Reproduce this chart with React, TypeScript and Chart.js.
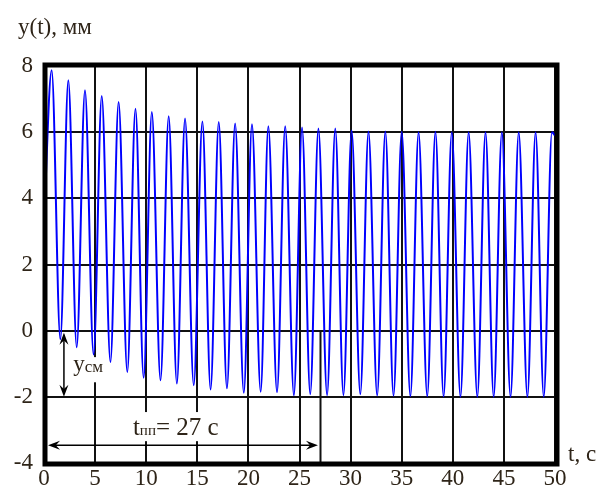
import React, { useEffect, useRef } from "react";
import { Chart, registerables } from "chart.js";

Chart.register(...registerables);

// Crests of y(t): time, s and displacement, mm
const crestTimes = [0.75, 2.38, 4.01, 5.65, 7.3, 8.95, 10.55, 12.2, 13.8, 15.5, 17.1, 18.7, 20.35, 21.95, 23.6, 25.25, 26.85, 28.5, 30.1, 31.75, 33.4, 35.0, 36.65, 38.3, 39.9, 41.55, 43.2, 44.8, 46.45, 48.1, 49.7];
const crestValues = [7.87, 7.57, 7.27, 7.09, 6.91, 6.71, 6.61, 6.48, 6.41, 6.32, 6.31, 6.26, 6.24, 6.18, 6.18, 6.14, 6.11, 6.11, 6.05, 6.02, 6.02, 6.01, 6.0, 6.01, 6.0, 6.0, 6.0, 6.0, 6.0, 6.0, 6.0];

// Troughs of y(t)
const troughTimes = [1.6, 3.2, 4.85, 6.5, 8.15, 9.75, 11.4, 13.0, 14.65, 16.3, 17.9, 19.55, 21.2, 22.8, 24.45, 26.05, 27.7, 29.3, 30.95, 32.6, 34.2, 35.85, 37.5, 39.1, 40.75, 42.4, 44.0, 45.65, 47.3, 48.9];
const troughValues = [-0.26, -0.5, -0.72, -0.95, -1.25, -1.42, -1.5, -1.6, -1.65, -1.78, -1.74, -1.88, -1.85, -1.86, -1.95, -1.92, -1.95, -1.95, -1.92, -1.96, -1.97, -1.98, -1.98, -1.99, -2.0, -2.0, -2.0, -2.0, -2.0, -2.0];

// Ends of the record
const startPoint = { t: 0, y: 3.3 };
const endPoint = { t: 50, y: 5.9 };

const timeTicks = [0, 5, 10, 15, 20, 25, 30, 35, 40, 45, 50];
const dispTicks = [-4, -2, 0, 2, 4, 6, 8];

// Settling time and offset of the oscillation centre
const settlingTime = 27;
const offsetTop = 0;
const offsetBottom = -2;
const offsetArrowTime = 1.95;
const settlingArrowLevel = -3.46;

const SERIF = '"Liberation Serif", "Times New Roman", serif';
const TEXT = "#2e2418";

function buildWave() {
  const pts: { x: number; y: number }[] = [{ x: startPoint.t, y: startPoint.y }];
  for (let i = 0; i < crestTimes.length; i++) {
    pts.push({ x: crestTimes[i], y: crestValues[i] });
    if (i < troughTimes.length) pts.push({ x: troughTimes[i], y: troughValues[i] });
  }
  pts.push({ x: endPoint.t, y: endPoint.y });
  return pts;
}

function arrowHead(ctx: CanvasRenderingContext2D, tx: number, ty: number, angle: number) {
  const len = 12;
  const half = 4.5;
  ctx.save();
  ctx.translate(tx, ty);
  ctx.rotate(angle);
  ctx.beginPath();
  ctx.moveTo(0, 0);
  ctx.lineTo(-len, -half);
  ctx.lineTo(-len * 0.65, 0);
  ctx.lineTo(-len, half);
  ctx.closePath();
  ctx.fill();
  ctx.restore();
}

const overlay = {
  id: "overlay",
  beforeDatasetsDraw(chart: any) {
    const { ctx } = chart;
    const x = chart.scales.x;
    const y = chart.scales.y;
    ctx.save();
    ctx.fillStyle = "#ffffff";
    // clear the grid behind the two labels
    const x1 = x.getPixelForValue(2.5), x2 = x.getPixelForValue(6.3);
    const y1 = y.getPixelForValue(-0.8), y2 = y.getPixelForValue(-1.56);
    ctx.fillRect(x1, y1, x2 - x1, y2 - y1);
    const x3 = x.getPixelForValue(8.2), x4 = x.getPixelForValue(17.7);
    const y3 = y.getPixelForValue(-2.46), y4 = y.getPixelForValue(-3.34);
    ctx.fillRect(x3, y3, x4 - x3, y4 - y3);
    // marker line at the settling time
    const xs = Math.round(x.getPixelForValue(settlingTime)) + 0.5;
    ctx.strokeStyle = "#111";
    ctx.lineWidth = 2;
    ctx.beginPath();
    ctx.moveTo(xs, y.getPixelForValue(-4));
    ctx.lineTo(xs, y.getPixelForValue(0));
    ctx.stroke();
    ctx.restore();
  },
  afterDraw(chart: any) {
    const { ctx, chartArea } = chart;
    const x = chart.scales.x;
    const y = chart.scales.y;
    ctx.save();

    // heavy frame
    ctx.strokeStyle = "#000";
    ctx.lineWidth = 5;
    ctx.strokeRect(chartArea.left + 1, chartArea.top - 1, chartArea.right - chartArea.left + 1, chartArea.bottom - chartArea.top + 2);

    ctx.fillStyle = "#000";
    ctx.strokeStyle = "#000";
    ctx.lineWidth = 1.5;

    // offset arrow y_см
    const ax = x.getPixelForValue(offsetArrowTime);
    const ay1 = y.getPixelForValue(offsetTop);
    const ay2 = y.getPixelForValue(offsetBottom);
    ctx.beginPath();
    ctx.moveTo(ax, ay1 + 4);
    ctx.lineTo(ax, ay2 - 4);
    ctx.stroke();
    arrowHead(ctx, ax, ay1 + 2, -Math.PI / 2);
    arrowHead(ctx, ax, ay2, Math.PI / 2);

    // settling-time arrow
    const hy = y.getPixelForValue(settlingArrowLevel);
    const hx1 = x.getPixelForValue(0) + 4;
    const hx2 = x.getPixelForValue(settlingTime) - 2;
    ctx.beginPath();
    ctx.moveTo(hx1 + 4, hy);
    ctx.lineTo(hx2 - 4, hy);
    ctx.stroke();
    arrowHead(ctx, hx1, hy, Math.PI);
    arrowHead(ctx, hx2, hy, 0);

    // labels
    ctx.fillStyle = TEXT;
    ctx.textAlign = "left";
    ctx.textBaseline = "alphabetic";

    const lx = x.getPixelForValue(2.85);
    const ly = y.getPixelForValue(-1.22);
    ctx.font = `23px ${SERIF}`;
    ctx.fillText("y", lx, ly);
    const wy = ctx.measureText("y").width;
    ctx.font = `17px ${SERIF}`;
    ctx.fillText("см", lx + wy, ly + 1);

    const tx = x.getPixelForValue(8.7);
    const ty = y.getPixelForValue(-3.16);
    ctx.font = `25px ${SERIF}`;
    ctx.fillText("t", tx, ty);
    let cx = tx + ctx.measureText("t").width;
    ctx.font = `15px ${SERIF}`;
    ctx.fillText("пп", cx, ty);
    cx += ctx.measureText("пп").width;
    ctx.font = `25px ${SERIF}`;
    ctx.fillText("= 27 c", cx, ty);

    // axis titles
    ctx.font = `23px ${SERIF}`;
    ctx.fillText("y(t), мм", 18, 34);
    ctx.fillText("t, c", chartArea.right + 13, chartArea.bottom - 2);

    ctx.restore();
  },
};

export default function App() {
  const ref = useRef<HTMLCanvasElement>(null);

  useEffect(() => {
    if (!ref.current) return;
    const chart = new Chart(ref.current, {
      type: "line",
      data: {
        datasets: [
          {
            data: buildWave(),
            borderColor: "#0000ff",
            borderWidth: 2,
            pointRadius: 0,
            cubicInterpolationMode: "monotone",
            fill: false,
          },
        ],
      },
      options: {
        animation: false,
        responsive: false,
        layout: { padding: { left: 0, top: 66, right: 47, bottom: 0 } },
        plugins: { legend: { display: false }, tooltip: { enabled: false } },
        scales: {
          x: {
            type: "linear",
            min: 0,
            max: 50,
            afterBuildTicks: (scale: any) => {
              scale.ticks = timeTicks.map((v) => ({ value: v }));
            },
            afterFit: (scale: any) => {
              scale.height = 25;
            },
            ticks: {
              color: TEXT,
              font: { family: SERIF, size: 23 },
              padding: 2,
              maxRotation: 0,
              autoSkip: false,
            },
            grid: { color: "#111", lineWidth: 2, drawTicks: false },
            border: { display: false },
          },
          y: {
            type: "linear",
            min: -4,
            max: 8,
            afterBuildTicks: (scale: any) => {
              scale.ticks = dispTicks.map((v) => ({ value: v }));
            },
            afterFit: (scale: any) => {
              scale.width = 44;
            },
            ticks: {
              color: TEXT,
              font: { family: SERIF, size: 23 },
              padding: 11,
              autoSkip: false,
            },
            grid: { color: "#111", lineWidth: 2, drawTicks: false },
            border: { display: false },
          },
        },
      },
      plugins: [overlay],
    });
    return () => chart.destroy();
  }, []);

  return (
    <div style={{ position: "absolute", left: 0, top: 0, width: 602, height: 488, background: "#fff" }}>
      <canvas ref={ref} width={602} height={488} />
    </div>
  );
}
